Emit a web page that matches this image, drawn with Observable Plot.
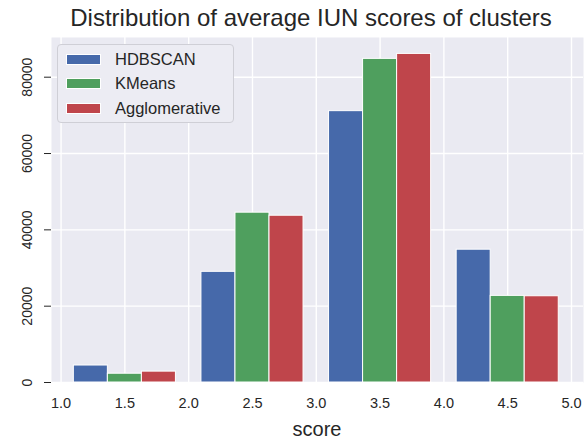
<!DOCTYPE html>
<html>
<head>
<meta charset="utf-8">
<script src="https://cdn.jsdelivr.net/npm/d3@7"></script>
<script src="https://cdn.jsdelivr.net/npm/@observablehq/plot@0.6"></script>
<style>
  body { margin: 0; background: #ffffff; font-family: "Liberation Sans", Arial, sans-serif; }
  #wrap { position: relative; width: 587px; height: 441px; color: #262626; }
  #title { position: absolute; left: 45px; width: 532px; top: 4px; text-align: center; font-size: 24px; line-height: 28px; }
  #xlabel { position: absolute; left: 51px; width: 532px; top: 417px; text-align: center; font-size: 20px; line-height: 24px; }
  #legend { position: absolute; left: 57px; top: 44px; width: 177px; height: 79px; box-sizing: border-box;
            background: #ececf3; border: 1px solid #cfcfd6; border-radius: 4px; }
  .row { position: absolute; left: 8px; height: 20px; display: flex; align-items: center; font-size: 16.5px; }
  .sw { width: 35px; height: 11px; box-sizing: border-box; border: 1px solid #ffffff; margin-right: 14px; }
  svg { position: absolute; left: 0; top: 0; }
</style>
</head>
<body>
<div id="wrap">
  <div id="title">Distribution of average IUN scores of clusters</div>
  <div id="xlabel">score</div>
</div>
<script>
// ---- data ----
const binStarts = [1, 2, 3, 4];
const seriesNames = ["HDBSCAN", "KMeans", "Agglomerative"];
const hdbscan = [4450, 29000, 71100, 34800];
const kmeans = [2300, 44500, 84800, 22700];
const agglomerative = [2850, 43700, 86100, 22600];
const seriesColors = ["#4669aa", "#4f9f5e", "#bf454b"];
const xTicks = [1.0, 1.5, 2.0, 2.5, 3.0, 3.5, 4.0, 4.5, 5.0];
const yTicks = [0, 20000, 40000, 60000, 80000];

// matplotlib-style grouped histogram layout (bars fill 80% of each bin)
const seriesValues = [hdbscan, kmeans, agglomerative];
const barW = 0.8 / seriesNames.length;
const rows = [];
seriesNames.forEach((name, i) => {
  binStarts.forEach((b, j) => {
    const x1 = b + 0.1 + i * barW;
    rows.push({series: name, x1, x2: x1 + barW, value: seriesValues[i][j]});
  });
});

const chart = Plot.plot({
  width: 587,
  height: 441,
  marginLeft: 51,
  marginRight: 4,
  marginTop: 37,
  marginBottom: 59,
  style: {fontFamily: '"Liberation Sans", Arial, sans-serif', color: "#262626", background: "transparent"},
  x: {domain: [0.925, 5.094]},
  y: {domain: [0, 90400]},
  color: {domain: seriesNames, range: seriesColors},
  marks: [
    Plot.frame({fill: "#eaeaf2", stroke: null}),
    Plot.gridX(xTicks, {stroke: "#ffffff", strokeOpacity: 1, strokeWidth: 1.4}),
    Plot.gridY(yTicks, {stroke: "#ffffff", strokeOpacity: 1, strokeWidth: 1.4}),
    Plot.rectY(rows, {x1: "x1", x2: "x2", y: "value", fill: "series", stroke: "#ffffff", strokeWidth: 1}),
    Plot.axisX(xTicks, {tickSize: 0, tickPadding: 15, tickFormat: d3.format(".1f"), fontSize: 14.5, label: null}),
    Plot.axisY(yTicks, {tickSize: 7, tickPadding: 13, tickRotate: -90, tickFormat: d => String(d), fontSize: 14, label: null})
  ]
});
document.getElementById("wrap").appendChild(chart);

// legend
const legend = document.createElement("div");
legend.id = "legend";
seriesNames.forEach((name, i) => {
  const row = document.createElement("div");
  row.className = "row";
  row.style.top = (4 + i * 24.5) + "px";
  const sw = document.createElement("div");
  sw.className = "sw";
  sw.style.background = seriesColors[i];
  const label = document.createElement("span");
  label.textContent = name;
  row.appendChild(sw);
  row.appendChild(label);
  legend.appendChild(row);
});
document.getElementById("wrap").appendChild(legend);
</script>
</body>
</html>
